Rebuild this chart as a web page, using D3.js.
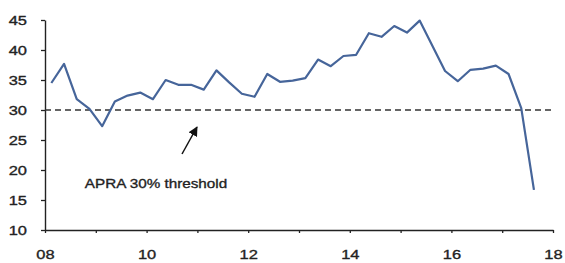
<!DOCTYPE html>
<html><head><meta charset="utf-8">
<script src="https://cdn.jsdelivr.net/npm/d3@7"></script>
<style>body{margin:0;background:#fff}svg{display:block}</style>
</head><body>
<svg id="c" width="565" height="263"></svg>
<script>
const startYear = 2008.125;
const values = [34.5,37.7,31.8,30.2,27.3,31.4,32.4,32.9,31.8,35.0,34.2,34.2,33.4,36.6,34.6,32.7,32.2,36.0,34.7,34.9,35.3,38.4,37.3,39.0,39.2,42.8,42.2,44.0,42.9,44.9,40.7,36.5,34.8,36.7,36.9,37.4,36.0,30.3,16.7];
const yTicks = [10,15,20,25,30,35,40,45];
const xMajor = [2008,2010,2012,2014,2016,2018];
const xMinor = [2009,2011,2013,2015,2017];
const threshold = 30;
const annotation = "APRA 30% threshold";

const data = values.map((v,i)=>({t:startYear+i*0.25, v}));
const svg = d3.select("#c");
const x = d3.scaleLinear().domain([2008,2018]).range([45,553]);
const y = d3.scaleLinear().domain([10,45]).range([230,20]);
const font = "'Liberation Sans', Arial, sans-serif";
const sx = 1.22;

function styleText(sel){
  sel.attr("font-family",font).attr("font-size",13.5).attr("fill","#222")
     .attr("stroke","#222").attr("stroke-width",0.35);
}

// y axis
const ya = svg.append("g").attr("transform","translate(45,0)")
  .call(d3.axisLeft(y).tickValues(yTicks).tickSize(4).tickSizeOuter(0).tickPadding(14).tickFormat(d3.format("d")));
ya.select(".domain").attr("stroke","#222").attr("stroke-width",1.4);
ya.selectAll(".tick line").attr("stroke","#222").attr("stroke-width",1.3);
ya.selectAll(".tick text").each(function(){
  const t = d3.select(this);
  const xx = +t.attr("x");
  styleText(t);
  t.attr("x", null).attr("transform", `translate(${xx},0) scale(${sx},1)`);
});

// x axis
const xa = svg.append("g").attr("transform","translate(0,230)")
  .call(d3.axisBottom(x).tickValues(xMajor.concat(xMinor)).tickSize(3).tickSizeOuter(0).tickPadding(16)
    .tickFormat(d => xMajor.includes(d) ? d3.format("02d")(d%100) : ""));
xa.select(".domain").attr("stroke","#222").attr("stroke-width",1.4);
xa.selectAll(".tick line").attr("stroke","#222").attr("stroke-width",1.3);
xa.selectAll(".tick text").each(function(){
  const t = d3.select(this);
  const yy = +t.attr("y");
  styleText(t);
  t.attr("y", null).attr("transform", `translate(0,${yy}) scale(${sx},1)`);
});

// threshold dashed line
svg.append("line").attr("x1",x(2008)).attr("x2",x(2018)).attr("y1",y(threshold)).attr("y2",y(threshold))
  .attr("stroke","#333").attr("stroke-width",1.4).attr("stroke-dasharray","6,4");

// series line
svg.append("path").datum(data)
  .attr("d", d3.line().x(d=>x(d.t)).y(d=>y(d.v)))
  .attr("fill","none").attr("stroke","#46659a").attr("stroke-width",2.2).attr("stroke-linejoin","round");

// annotation
svg.append("defs").append("marker").attr("id","ah").attr("viewBox","0 0 10 10").attr("refX",9).attr("refY",5)
  .attr("markerWidth",6.5).attr("markerHeight",6.5).attr("orient","auto")
  .append("path").attr("d","M0,0L10,5L0,10z").attr("fill","#111");
svg.append("line").attr("x1",182).attr("y1",154).attr("x2",197).attr("y2",127)
  .attr("stroke","#111").attr("stroke-width",1.5).attr("marker-end","url(#ah)");
const at = svg.append("text").attr("text-anchor","middle")
  .attr("transform",`translate(156,188) scale(1.13,1)`).text(annotation);
styleText(at);
</script>
</body></html>
